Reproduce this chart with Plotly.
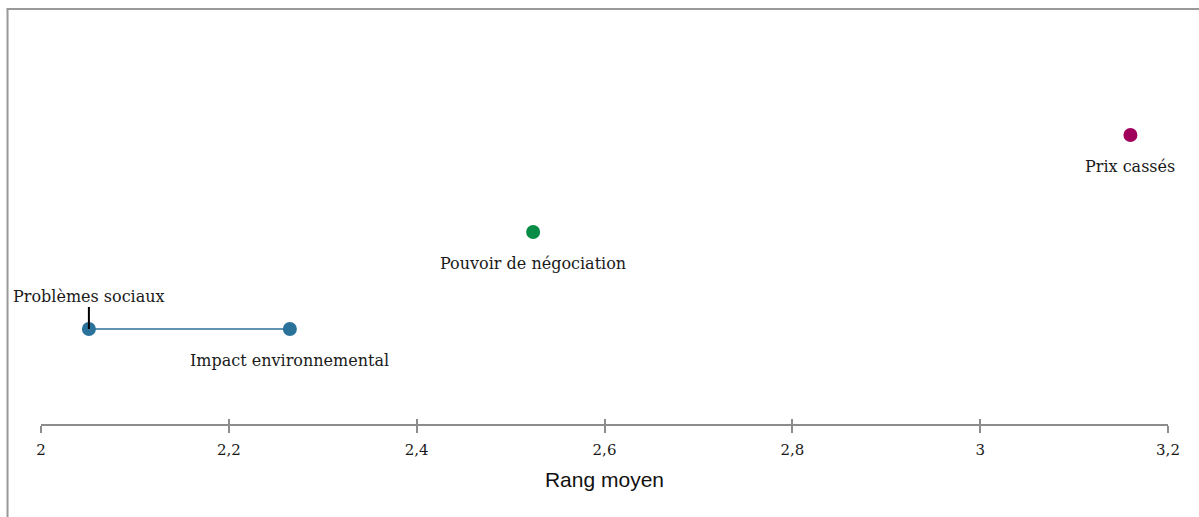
import plotly.graph_objects as go

# Data
labels = ["Problèmes sociaux", "Impact environnemental", "Pouvoir de négociation", "Prix cassés"]
rang_moyen = [2.051, 2.265, 2.524, 3.160]
rows = [1, 1, 2, 3]
colors = ["#2a7299", "#2a7299", "#078c45", "#a0005c"]
tick_vals = [2, 2.2, 2.4, 2.6, 2.8, 3, 3.2]
tick_text = ["2", "2,2", "2,4", "2,6", "2,8", "3", "3,2"]

serif = "DejaVu Serif"

fig = go.Figure()

# connecting line for the pair on row 1
pair_x = [x for x, r in zip(rang_moyen, rows) if r == 1]
pair_y = [r for r in rows if r == 1]
fig.add_trace(go.Scatter(x=pair_x, y=pair_y, mode="lines",
                         line=dict(color="#2a7299", width=1.5),
                         hoverinfo="skip", showlegend=False))

fig.add_trace(go.Scatter(x=rang_moyen, y=rows, mode="markers",
                         marker=dict(size=14, color=colors),
                         text=labels, hoverinfo="text", showlegend=False))

# labels
for lab, x, y in zip(labels, rang_moyen, rows):
    if lab == "Problèmes sociaux":
        fig.add_annotation(x=x, y=y, text=lab, showarrow=True, arrowhead=0,
                           arrowwidth=2, arrowcolor="#000", ax=0, ay=-33,
                           standoff=0,
                           font=dict(family=serif, size=16, color="#1a1a1a"))
    else:
        fig.add_annotation(x=x, y=y, text=lab, showarrow=False, yshift=-31,
                           font=dict(family=serif, size=16, color="#1a1a1a"))

# frame (left and top lines)
fig.add_shape(type="line", xref="paper", yref="paper", x0=-0.0297, x1=-0.0297,
              y0=0.9976, y1=-0.3, line=dict(color="#999", width=2))
fig.add_shape(type="line", xref="paper", yref="paper", x0=-0.0306, x1=1.1,
              y0=0.9976, y1=0.9976, line=dict(color="#999", width=2))

fig.update_layout(
    width=1199, height=517,
    margin=dict(l=41, r=31, t=8, b=93),
    plot_bgcolor="white", paper_bgcolor="white",
    xaxis=dict(range=[2, 3.2], tickvals=tick_vals, ticktext=tick_text,
               showgrid=False, zeroline=False, showline=True,
               linecolor="#8c8c8c", linewidth=2,
               ticks="outside", ticklen=7, tickwidth=2, tickcolor="#8c8c8c",
               ticklabelstandoff=4,
               tickfont=dict(family=serif, size=15, color="#1a1a1a"),
               title=dict(text="Rang moyen", standoff=14,
                          font=dict(family="Liberation Sans", size=21, color="#111"))),
    xaxis2=dict(range=[2, 3.2], overlaying="x", side="bottom", anchor="y",
                tickvals=tick_vals, showticklabels=False, showgrid=False,
                zeroline=False, ticks="inside", ticklen=5, tickwidth=2,
                tickcolor="#8c8c8c"),
    yaxis=dict(range=[0.0206, 4.31], visible=False, showgrid=False, zeroline=False),
)

# invisible trace to activate xaxis2
fig.add_trace(go.Scatter(x=[2, 3.2], y=[0.5, 0.5], xaxis="x2", mode="markers",
                         marker=dict(opacity=0), hoverinfo="skip", showlegend=False))

fig.write_html("out.html", config={"displayModeBar": False},
               post_script="document.body.style.margin='0';")
